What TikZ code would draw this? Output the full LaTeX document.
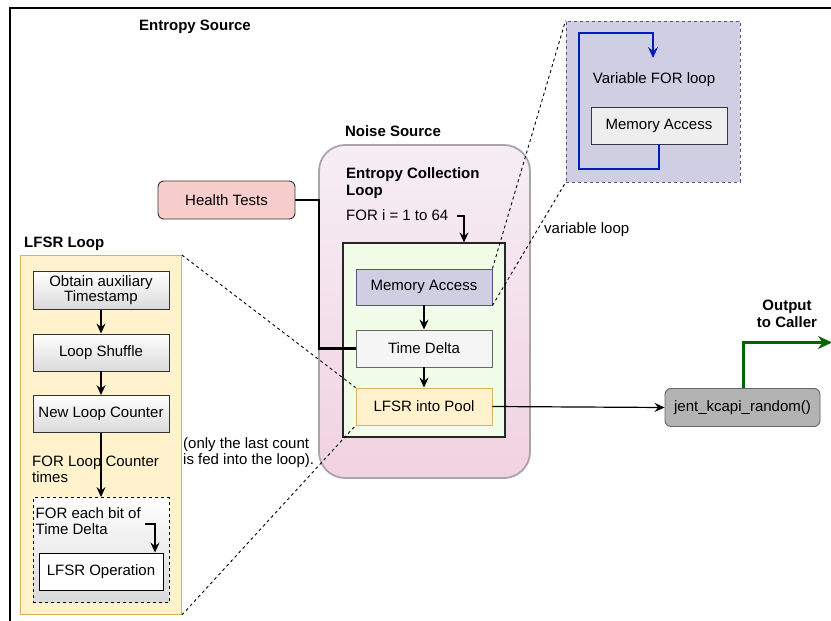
\documentclass[tikz,border=0pt]{standalone}
\usepackage{fontspec}
\setmainfont{Liberation Sans}
\usetikzlibrary{arrows.meta}
\definecolor{nsTop}{HTML}{F6EEF4}
\definecolor{nsBot}{HTML}{F1D2E1}
\definecolor{nsLine}{HTML}{A8A4A8}
\definecolor{grnFill}{HTML}{F1FDE9}
\definecolor{purFill}{HTML}{D0CEE2}
\definecolor{purLine}{HTML}{56517E}
\definecolor{grayFill}{HTML}{F5F5F5}
\definecolor{grayLine}{HTML}{666666}
\definecolor{yelFill}{HTML}{FFF2CC}
\definecolor{yelLine}{HTML}{D6B656}
\definecolor{redFill}{HTML}{F8CECC}
\definecolor{jentFill}{HTML}{B3B3B3}
\definecolor{outGreen}{HTML}{006600}
\definecolor{loopBlue}{HTML}{001DBC}
\definecolor{maFill}{HTML}{EEEEEE}
\definecolor{maLine}{HTML}{36393D}
\definecolor{gradBot}{HTML}{DADADA}
\begin{document}
\begin{tikzpicture}[x=1pt,y=-1pt,
  font=\fontsize{15}{17}\selectfont,
  box/.style={draw, rectangle, inner sep=0pt, align=center, line width=0.9pt},
  lbl/.style={inner sep=0pt, font=\fontsize{15}{17}\selectfont\bfseries},
  txt/.style={inner sep=0pt, align=left},
  arr/.style={-{Stealth[length=10pt,width=9pt,inset=3.5pt]}, line width=1.2pt},
  gradbox/.style={box, draw=black!80, top color=white, bottom color=gradBot}]
\useasboundingbox (0,0) rectangle (831,621);
\clip (0,0) rectangle (831,621);

% outer frame (Entropy Source)
\draw[line width=2.4pt] (10,1000) -- (10,8) -- (1000,8);
\node[lbl] (es) at (195,26.5) {Entropy Source};

% LFSR loop (left)
\node[lbl, anchor=west] (lfsrlbl) at (24,243.5) {LFSR Loop};
\node[box, fill=yelFill, draw=yelLine, minimum width=161, minimum height=359] (lfsr) at (101,435) {};
\node[gradbox, minimum width=136, minimum height=38] (oat) at (101,290.5) {Obtain auxiliary\\[-2pt]Timestamp};
\node[gradbox, minimum width=136, minimum height=37] (ls) at (101,352.5) {Loop Shuffle};
\node[gradbox, minimum width=136, minimum height=37] (nlc) at (101,414) {New Loop Counter};
\node[box, dashed, draw=black, top color=white, bottom color=gradBot, minimum width=136, minimum height=105] (db) at (101,550) {};
\node[box, fill=white, draw=black, minimum width=124, minimum height=37] (lo) at (101,571.5) {LFSR Operation};
\node[txt, anchor=west] (forlc) at (32,469) {FOR Loop Counter\\[-1pt]times};
\node[txt, anchor=west] (foreb) at (35.5,521) {FOR each bit of\\[-1pt]Time Delta};
\coordinate (ebA) at (145,524);
\coordinate (ebB) at (155,524);
\draw[arr] (oat) -- (ls);
\draw[arr] (ls) -- (nlc);
\draw[arr] (nlc) -- (db);
\draw[arr] (ebA) -- (ebB) -- (ebB |- lo.north);
\node[txt, anchor=west] (only) at (183,452.5) {(only the last count\\[-1pt]is fed into the loop).};

% Health tests
\node[box, rounded corners=6pt, fill=redFill, draw=black!80, minimum width=137, minimum height=38] (ht) at (226.5,200) {Health Tests};

% Noise source
\node[lbl] (nslbl) at (393,131) {Noise Source};
\node[box, rounded corners=26pt, top color=nsTop, bottom color=nsBot, draw=nsLine, line width=1.8pt, minimum width=211, minimum height=333] (ns) at (424.5,311.5) {};
\node[lbl, anchor=west, align=left] (ecl) at (346,183) {Entropy Collection\\Loop};
\node[txt, anchor=west] (fori) at (346,215) {FOR i = 1 to 64};
\node[box, fill=grnFill, draw=black!85, line width=1.2pt, minimum width=162, minimum height=194] (grn) at (424,340) {};
\node[box, fill=purFill, draw=purLine, minimum width=136, minimum height=36] (ma) at (424,287) {Memory Access};
\node[box, fill=grayFill, draw=grayLine, minimum width=136, minimum height=37] (td) at (424,348.5) {Time Delta};
\node[box, fill=yelFill, draw=yelLine, minimum width=136, minimum height=37] (lp) at (424,406.5) {LFSR into Pool};
\coordinate (fiA) at (457,216);
\coordinate (fiB) at (464,216);
\draw[arr] (fiA) -- (fiB) -- (fiB |- grn.north);
\draw[arr] (ma) -- (td);
\draw[arr] (td) -- (lp);
\coordinate (htbend) at (319,200);
\draw[line width=2.2pt] (ht.east) -- (htbend) -- (htbend |- td.west) -- (td.west);

% variable loop
\node[box, dashed, fill=purFill, draw=purLine, minimum width=174, minimum height=161] (vb) at (653,101.5) {};
\node[inner sep=0pt] (vfl) at (654,80) {Variable FOR loop};
\node[box, fill=maFill, draw=maLine, minimum width=136, minimum height=37] (ma2) at (659,125.5) {Memory Access};
\coordinate (bl1) at (659,169);
\coordinate (bl2) at (579,169);
\coordinate (bl3) at (579,33);
\coordinate (bl4) at (653,33);
\coordinate (bl5) at (653,58);
\draw[loopBlue, line width=1.1pt, -{Stealth[length=11pt,width=10pt,inset=4pt]}] (ma2.south) -- (bl1) -- (bl2) -- (bl3) -- (bl4) -- (bl5);
\node[txt, anchor=west] (vl) at (544,230) {variable loop};

% zoom dashed lines
\draw[dashed, line width=0.9pt] (ma.north east) -- (vb.north west);
\draw[dashed, line width=0.9pt] (ma.south east) -- (vb.south west);
\draw[dashed, line width=0.9pt] (lfsr.north east) -- (lp.north west);
\draw[dashed, line width=0.9pt] (lfsr.south east) -- (lp.south west);

% output
\node[box, rounded corners=6pt, fill=jentFill, draw=grayLine, minimum width=155, minimum height=38] (jent) at (742.5,407.5) {jent\_kcapi\_random()};
\draw[arr] (lp.east) -- (jent.west);
\coordinate (oc1) at (743.3,342.5);
\coordinate (oc2) at (832,342.5);
\draw[outGreen, line width=2.6pt, -{Stealth[length=14pt,width=13pt,inset=4.5pt]}] (jent.north -| oc1) -- (oc1) -- (oc2);
\node[lbl, align=center] (out) at (787,314) {Output\\to Caller};
\end{tikzpicture}
\end{document}
